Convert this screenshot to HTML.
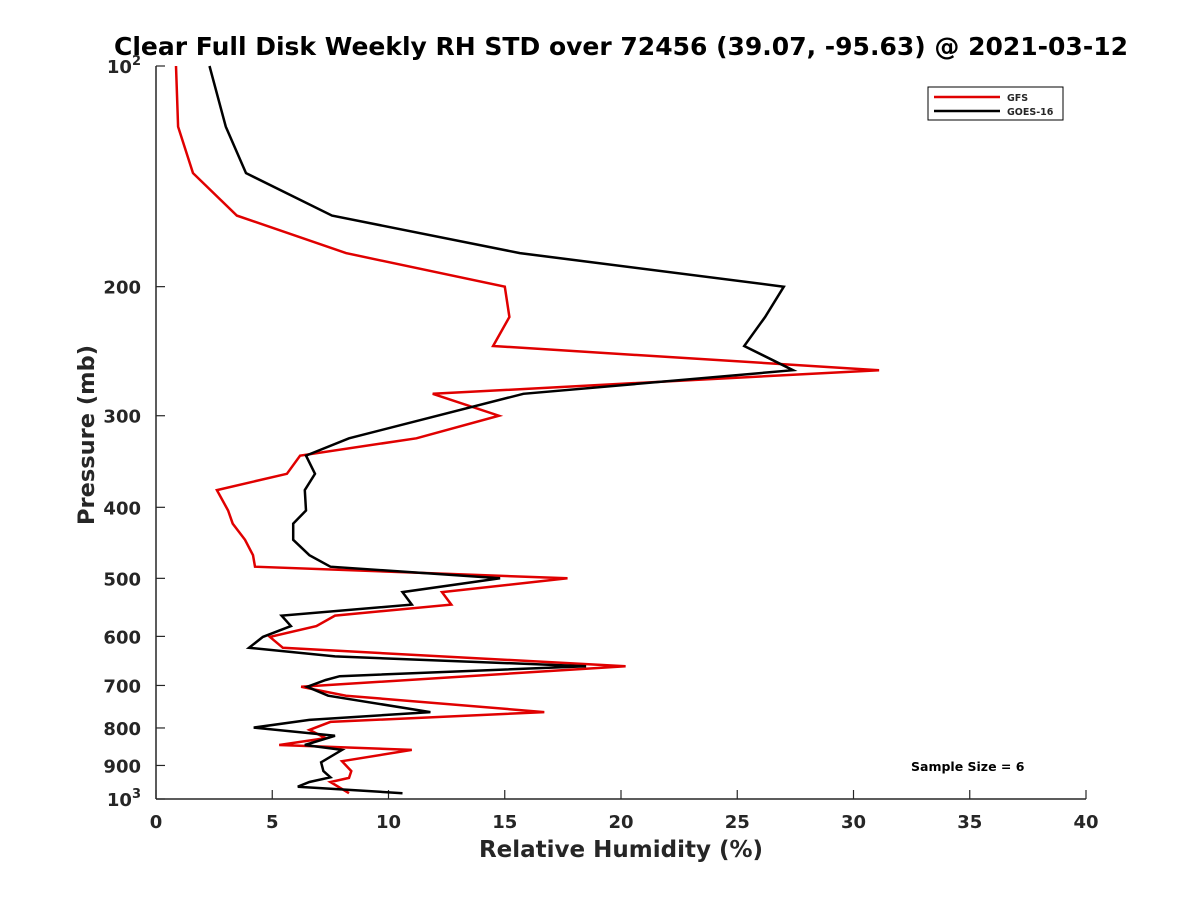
<!DOCTYPE html>
<html><head><meta charset="utf-8"><style>
body{margin:0;background:#fff;}
svg text{font-family:"DejaVu Sans","Liberation Sans",sans-serif;font-weight:bold;fill:#262626;}
</style></head><body>
<svg id="chart" width="1200" height="900" xmlns="http://www.w3.org/2000/svg">
<rect width="1200" height="900" fill="#fff"/>
<text x="621" y="55" font-size="25" text-anchor="middle" style="fill:#000">Clear Full Disk Weekly RH STD over 72456 (39.07, -95.63) @ 2021-03-12</text>
<g id="axes"></g>
<g id="series"></g>
<g>
<rect x="928" y="87" width="135" height="33" fill="#fff" stroke="#000" stroke-width="1"/>
<line x1="934" y1="97" x2="1000" y2="97" stroke="#e00000" stroke-width="2.5"/>
<text x="1007" y="101" font-size="9.5">GFS</text>
<line x1="934" y1="111" x2="1000" y2="111" stroke="#000" stroke-width="2.5"/>
<text x="1007" y="115" font-size="9.5">GOES-16</text>
</g>
<text x="911" y="771" font-size="12.5" style="fill:#000">Sample Size = 6</text>
<text x="621" y="857" font-size="23" text-anchor="middle">Relative Humidity (%)</text>
<text transform="translate(94,435) rotate(-90)" font-size="22.5" text-anchor="middle">Pressure (mb)</text>
</svg>
<script>
const xTicks=[0,5,10,15,20,25,30,35,40];
const yTicks=[100,200,300,400,500,600,700,800,900,1000];
const gfsP=[100,121,140,160,180,200,220,241,260,280,300,322,340,360,379,404,421,443,465,482,500,522,543,562,581,601,622,659,703,723,761,785,805,826,844,857,888,916,936,948,982];
const gfsRH=[0.86,0.95,1.59,3.48,8.17,15.0,15.2,14.5,31.1,11.9,14.75,11.2,6.2,5.63,2.62,3.1,3.3,3.83,4.17,4.26,17.7,12.3,12.7,7.7,6.9,4.9,5.46,20.2,6.24,8.17,16.7,7.5,6.6,7.3,5.3,11.0,8.0,8.4,8.3,7.5,8.3];
const goesP=[100,121,140,160,180,200,220,241,260,280,322,340,360,379,404,421,443,465,482,500,522,543,562,581,601,622,639,659,680,688,703,723,761,780,799,820,844,857,891,916,934,948,962,982];
const goesRH=[2.3,3.0,3.87,7.57,15.65,27.0,26.2,25.3,27.4,15.8,8.3,6.45,6.84,6.4,6.45,5.9,5.9,6.6,7.5,14.8,10.6,11.0,5.4,5.8,4.6,4.0,7.7,18.5,7.9,7.3,6.5,7.4,11.8,6.6,4.2,7.7,6.4,8.0,7.1,7.2,7.5,6.6,6.1,10.6];
const X0=156,X1=1086,Y0=66,Y1=799;
const xs=v=>X0+(v-0)/(40-0)*(X1-X0);
const ys=p=>Y0+Math.log10(p/100)*(Y1-Y0);
const NS="http://www.w3.org/2000/svg";
function mk(t,a,parent){const e=document.createElementNS(NS,t);for(const k in a)e.setAttribute(k,a[k]);parent.appendChild(e);return e;}
const ax=document.getElementById('axes');
let l=mk('line',{x1:X0,y1:Y0,x2:X0,y2:Y1,stroke:'#262626','stroke-width':1.5},ax);


l=mk('line',{x1:X0,y1:Y1,x2:X1,y2:Y1,stroke:'#262626','stroke-width':1.5},ax);


xTicks.forEach(v=>{
 const x=xs(v);
 mk('line',{x1:x,y1:Y1,x2:x,y2:Y1-9,stroke:'#262626','stroke-width':1.2},ax);
 const t=mk('text',{x:x,y:Y1+29,'font-size':18,'text-anchor':'middle'},ax);
 t.textContent=v;
 
 
});
yTicks.forEach(p=>{
 const y=ys(p);
 mk('line',{x1:X0,y1:y,x2:X0+9,y2:y,stroke:'#262626','stroke-width':1.2},ax);
 const t=mk('text',{x:X0-15,y:y+7,'font-size':18,'text-anchor':'end'},ax);
 if(p===100||p===1000){
   t.textContent='10';
   const s=mk('tspan',{dy:-8,'font-size':13},t);s.textContent=p===100?'2':'3';
 } else t.textContent=p;
 
 
});
const sg=document.getElementById('series');
function line(P,V,c,name){
 const pts=P.map((p,i)=>xs(V[i]).toFixed(1)+','+ys(p).toFixed(1)).join(' ');
 const e=mk('polyline',{points:pts,fill:'none',stroke:c,'stroke-width':2.5,'stroke-linejoin':'miter'},sg);
 
 
}
line(gfsP,gfsRH,'#e00000','gfs-line');
line(goesP,goesRH,'#000000','goes16-line');
</script>
</body></html>
